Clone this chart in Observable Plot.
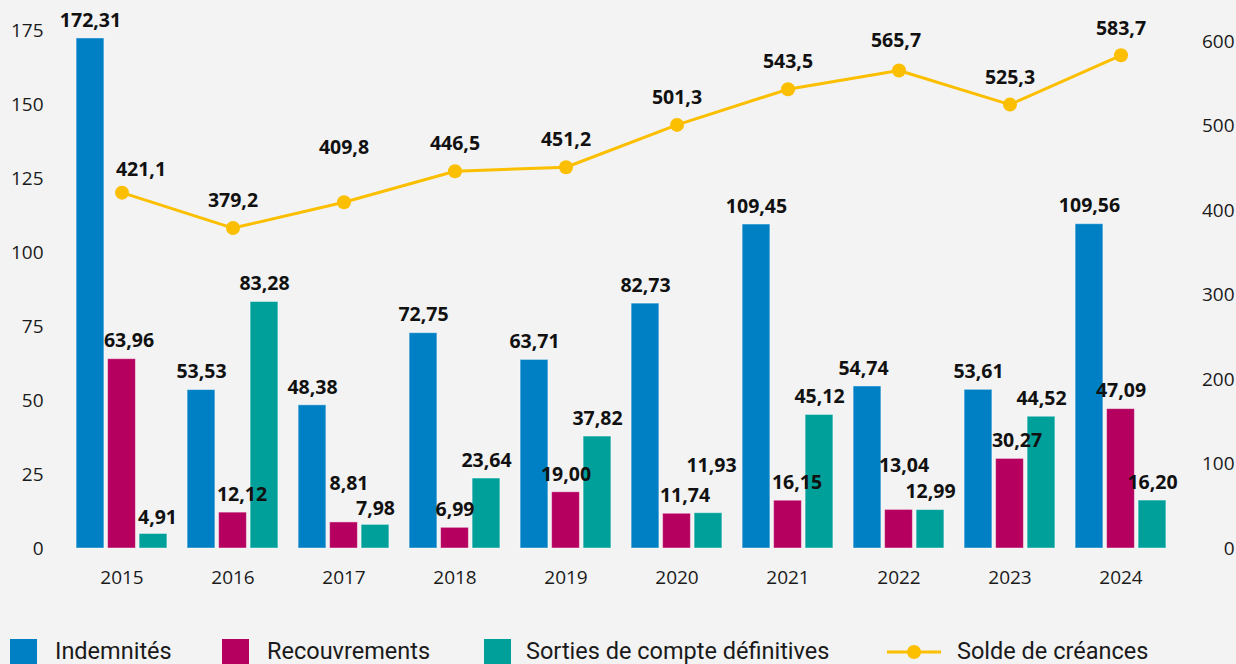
<!DOCTYPE html>
<html>
<head>
<meta charset="utf-8">
<script src="https://cdn.jsdelivr.net/npm/d3@7"></script>
<script src="https://cdn.jsdelivr.net/npm/@observablehq/plot@0.6"></script>
<style>
  html, body { margin: 0; padding: 0; background: #f3f3f3; }
  #wrap { width: 1236px; position: relative; }
  #legend { position: relative; height: 74px; font-family: Roboto, "Open Sans", sans-serif; font-size: 23.5px; color: #1a1a1a; }
  .item { position: absolute; top: 49px; display: flex; align-items: flex-start; }
  .sw { width: 27px; height: 27px; }
  .lab { position: absolute; top: -1px; white-space: nowrap; line-height: 27px; }
</style>
</head>
<body>
<div id="wrap">
  <div id="chart"></div>
  <div id="legend"></div>
</div>
<script>
// ---- data ----
const years = ["2015","2016","2017","2018","2019","2020","2021","2022","2023","2024"];
const indemnites    = [172.31, 53.53, 48.38, 72.75, 63.71, 82.73, 109.45, 54.74, 53.61, 109.56];
const recouvrements = [63.96, 12.12, 8.81, 6.99, 19.00, 11.74, 16.15, 13.04, 30.27, 47.09];
const sorties       = [4.91, 83.28, 7.98, 23.64, 37.82, 11.93, 45.12, 12.99, 44.52, 16.20];
const solde         = [421.1, 379.2, 409.8, 446.5, 451.2, 501.3, 543.5, 565.7, 525.3, 583.7];
const seriesNames = ["Indemnités", "Recouvrements", "Sorties de compte définitives", "Solde de créances"];
const leftTicks  = [0, 25, 50, 75, 100, 125, 150, 175];
const rightTicks = [0, 100, 200, 300, 400, 500, 600];

// ---- styles ----
const colors = ["#0080c4", "#b5005f", "#00a09a", "#fbbf00"];
const LEFT_MAX = 175, RIGHT_MAX = 613;
const k = LEFT_MAX / RIGHT_MAX; // right-axis units -> left-axis units
const barOffsets = [-31.5, 0, 31.5];
// label nudges [dx, dy] (manual label placement in the original)
const barNudge = {
  "2015|1": [7, 0], "2016|1": [9, 0], "2017|1": [5, -21], "2020|1": [8, 0],
  "2020|2": [3, -29], "2021|1": [9, 0], "2022|1": [5, -26], "2023|1": [7, 0],
  "2022|0": [-4, 0], "2015|2": [4, 2], "2017|2": [0, 2]
};
const lineNudge = { "2015": [19, 4], "2017": [0, -27], "2022": [-3, -3] };

const fmt2 = v => v.toFixed(2).replace(".", ",");
const fmt1 = v => v.toFixed(1).replace(".", ",");

const barSeries = [indemnites, recouvrements, sorties];
const font = "'Open Sans', sans-serif";

const marks = [];
barSeries.forEach((vals, s) => {
  const rows = years.map((y, i) => ({year: y, value: vals[i]}));
  marks.push(Plot.barY(rows, {
    x: "year", y: "value", fill: colors[s],
    stroke: "#ffffff", strokeOpacity: 0.45, strokeWidth: 1,
    dx: barOffsets[s], insetLeft: 41.6, insetRight: 41.6
  }));
});
barSeries.forEach((vals, s) => {
  years.forEach((y, i) => {
    const n = barNudge[y + "|" + s] || [0, 0];
    marks.push(Plot.text([{year: y, value: vals[i]}], {
      x: "year", y: "value", text: d => fmt2(d.value),
      dx: barOffsets[s] + n[0], dy: -18 + n[1],
      fontWeight: "bold", fontSize: 19.5, fontFamily: font, fill: "#111",
      lineAnchor: "middle"
    }));
  });
});
const lineRows = years.map((y, i) => ({year: y, value: solde[i]}));
marks.push(Plot.line(lineRows, {x: "year", y: d => d.value * k, stroke: colors[3], strokeWidth: 3}));
marks.push(Plot.dot(lineRows, {x: "year", y: d => d.value * k, r: 7, fill: colors[3], stroke: "none"}));
lineRows.forEach(d => {
  const n = lineNudge[d.year] || [0, 0];
  marks.push(Plot.text([d], {
    x: "year", y: v => v.value * k, text: v => fmt1(v.value),
    dx: n[0], dy: -27 + n[1],
    fontWeight: "bold", fontSize: 19.5, fontFamily: font, fill: "#111", lineAnchor: "middle"
  }));
});
marks.push(Plot.axisY(leftTicks, {anchor: "left", tickSize: 0, tickPadding: 22, fontSize: 19, fontFamily: font}));
marks.push(Plot.axisY(rightTicks.map(t => t * k), {
  anchor: "right", tickSize: 0, tickPadding: 57, textAnchor: "end",
  tickFormat: (d, i) => String(rightTicks[i]), fontSize: 19, fontFamily: font
}));
marks.push(Plot.axisX({tickSize: 0, tickPadding: 22, fontSize: 19, fontFamily: font}));

const chart = Plot.plot({
  width: 1236, height: 590,
  marginTop: 30, marginBottom: 42, marginLeft: 65, marginRight: 59,
  style: {background: "#f3f3f3", color: "#1a1a1a", fontFamily: font, fontSize: "19px"},
  x: {domain: years, padding: 0, axis: null, label: null},
  y: {domain: [0, LEFT_MAX], axis: null, label: null},
  marks
});
document.getElementById("chart").appendChild(chart);

// ---- legend ----
const legend = document.getElementById("legend");
const legendPos = [[10, 45], [222, 45], [484, 42], [887, 70]];
seriesNames.forEach((name, i) => {
  const item = document.createElement("div");
  item.className = "item";
  item.style.left = legendPos[i][0] + "px";
  if (i < 3) {
    item.innerHTML = `<div class="sw" style="background:${colors[i]}"></div>`;
  } else {
    item.innerHTML = `<svg width="54" height="27"><line x1="0" x2="54" y1="13" y2="13" stroke="${colors[3]}" stroke-width="3"/><circle cx="27" cy="13" r="7" fill="${colors[3]}"/></svg>`;
  }
  const lab = document.createElement("span");
  lab.className = "lab";
  lab.style.left = legendPos[i][1] + "px";
  lab.textContent = name;
  item.appendChild(lab);
  legend.appendChild(item);
});
</script>
</body>
</html>
